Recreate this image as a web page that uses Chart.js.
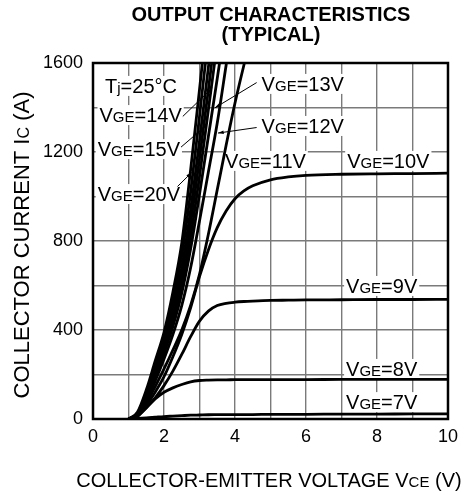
<!DOCTYPE html>
<html>
<head>
<meta charset="utf-8">
<script src="https://cdn.jsdelivr.net/npm/chart.js@4.4.0/dist/chart.umd.min.js"></script>
<style>
  html, body { margin: 0; padding: 0; background: #fff; }
</style>
</head>
<body>
<canvas id="chart" width="465" height="495"></canvas>
<script>
const FONT = "'Liberation Sans', Arial, sans-serif";

// collector-emitter voltage (V), shared by every curve
const vce = [1.0, 1.25, 1.5, 1.75, 2.0, 2.25, 2.5, 2.75, 3.0, 3.25, 3.5, 3.75, 4.0, 4.25, 4.5, 5, 5.5, 6, 7, 8, 9, 10];

// collector current (A) per gate voltage, null once the curve has left the plot
const ic20 = [0, 30, 130, 260, 390, 570, 790, 1120, 1480, 1850, null, null, null, null, null, null, null, null, null, null, null, null];
const ic18 = [0, 25, 115, 240, 365, 525, 735, 1020, 1360, 1720, null, null, null, null, null, null, null, null, null, null, null, null];
const ic16 = [0, 22, 105, 220, 340, 490, 680, 940, 1250, 1580, 1920, null, null, null, null, null, null, null, null, null, null, null];
const ic15 = [0, 20, 95, 205, 325, 465, 640, 880, 1170, 1480, 1800, null, null, null, null, null, null, null, null, null, null, null];
const ic14 = [0, 18, 90, 195, 310, 440, 600, 820, 1090, 1390, 1690, null, null, null, null, null, null, null, null, null, null, null];
const ic13 = [0, 16, 85, 185, 295, 415, 565, 765, 1010, 1270, 1530, 1800, null, null, null, null, null, null, null, null, null, null];
const ic12 = [0, 15, 80, 170, 270, 380, 510, 680, 890, 1110, 1330, 1590, 1850, null, null, null, null, null, null, null, null, null];
const ic11 = [0, 14, 70, 145, 225, 310, 400, 510, 650, 830, 1030, 1230, 1420, 1590, 1750, null, null, null, null, null, null, null];
const ic10 = [0, 12, 60, 120, 190, 280, 380, 500, 640, 760, 860, 935, 990, 1025, 1048, 1075, 1088, 1095, 1100, 1102, 1103, 1105];
const ic9 = [0, 12, 50, 95, 150, 215, 290, 370, 440, 485, 510, 520, 525, 528, 530, 533, 534, 535, 536, 537, 537, 538];
const ic8 = [0, 15, 50, 90, 120, 140, 155, 167, 173, 175, 176, 176, 177, 177, 177, 177, 177, 177, 178, 178, 178, 178];
const ic7 = [0, 3, 5, 8, 11, 13, 15, 17, 18, 19, 19.5, 20, 20, 20, 20, 21, 21, 21, 22, 22, 23, 23];

const seriesNames = ["VGE=20V", "VGE=18V", "VGE=16V", "VGE=15V", "VGE=14V", "VGE=13V", "VGE=12V", "VGE=11V", "VGE=10V", "VGE=9V", "VGE=8V", "VGE=7V"];
const seriesValues = [ic20, ic18, ic16, ic15, ic14, ic13, ic12, ic11, ic10, ic9, ic8, ic7];

// axis ticks
const xTickLabels = [0, 2, 4, 6, 8, 10];
const yTickLabels = [0, 400, 800, 1200, 1600];

// text inside the plot, {} marks the small letters; anchor in data units
const notes = [
  { text: "T{j}=25°C", x: 0.34, y: 1497, align: "left" },
  { text: "V{GE}=14V", x: 2.5, y: 1366, align: "right" },
  { text: "V{GE}=15V", x: 2.45, y: 1213, align: "right" },
  { text: "V{GE}=20V", x: 2.45, y: 1011, align: "right" },
  { text: "V{GE}=13V", x: 4.75, y: 1506, align: "left" },
  { text: "V{GE}=12V", x: 4.75, y: 1317, align: "left" },
  { text: "V{GE}=11V", x: 3.72, y: 1160, align: "left" },
  { text: "V{GE}=10V", x: 7.16, y: 1160, align: "left" },
  { text: "V{GE}=9V", x: 7.13, y: 598, align: "left" },
  { text: "V{GE}=8V", x: 7.13, y: 225, align: "left" },
  { text: "V{GE}=7V", x: 7.13, y: 76, align: "left" },
];

// leader lines from label to curve, data units
const leaders = [
  [2.53, 1360, 3.36, 1488],
  [2.48, 1222, 3.16, 1315],
  [2.38, 1045, 2.78, 1108],
  [4.61, 1512, 3.43, 1398],
  [4.61, 1310, 3.52, 1285],
];

function drawRich(ctx, text, x, y, align, big, small) {
  const parts = text.split(/[{}]/);
  let w = 0;
  parts.forEach((p, i) => {
    ctx.font = (i % 2 ? small : big) + "px " + FONT;
    w += ctx.measureText(p).width;
  });
  let cx = align === "left" ? x : align === "right" ? x - w : x - w / 2;
  const start = cx;
  ctx.textBaseline = "alphabetic";
  ctx.textAlign = "left";
  parts.forEach((p, i) => {
    ctx.font = (i % 2 ? small : big) + "px " + FONT;
    ctx.fillText(p, cx, y);
    cx += ctx.measureText(p).width;
  });
  return { left: start, width: w };
}

const textPlugin = {
  id: "texts",
  beforeDatasetsDraw(chart) {
    const { ctx, scales } = chart;
    ctx.save();
    notes.forEach((n) => {
      const px = scales.x.getPixelForValue(n.x);
      const py = scales.y.getPixelForValue(n.y);
      const base = py + 7;
      ctx.globalAlpha = 0;
      const m = drawRich(ctx, n.text, px, base, n.align, 20, 15);
      ctx.globalAlpha = 1;
      ctx.fillStyle = "#fff";
      ctx.fillRect(m.left - 2, py - 10, m.width + 4, 20);
      ctx.fillStyle = "#000";
      drawRich(ctx, n.text, px, base, n.align, 20, 15);
    });
    ctx.strokeStyle = "#000";
    ctx.lineWidth = 1;
    leaders.forEach(([x1, y1, x2, y2]) => {
      const ax = scales.x.getPixelForValue(x1), ay = scales.y.getPixelForValue(y1);
      const bx = scales.x.getPixelForValue(x2), by = scales.y.getPixelForValue(y2);
      ctx.beginPath();
      ctx.moveTo(ax, ay);
      ctx.lineTo(bx, by);
      ctx.stroke();
      const ang = Math.atan2(by - ay, bx - ax);
      ctx.beginPath();
      ctx.moveTo(bx, by);
      ctx.lineTo(bx - 6 * Math.cos(ang - 0.3), by - 6 * Math.sin(ang - 0.3));
      ctx.lineTo(bx - 6 * Math.cos(ang + 0.3), by - 6 * Math.sin(ang + 0.3));
      ctx.closePath();
      ctx.fillStyle = "#000";
      ctx.fill();
    });
    ctx.restore();
  },
  afterDraw(chart) {
    const { ctx, chartArea: a } = chart;
    ctx.save();
    // plot frame
    ctx.strokeStyle = "#000";
    ctx.lineWidth = 2.5;
    ctx.strokeRect(a.left, a.top, a.right - a.left, a.bottom - a.top);
    // title
    ctx.fillStyle = "#000";
    ctx.textAlign = "center";
    ctx.textBaseline = "alphabetic";
    ctx.font = "bold 20px " + FONT;
    ctx.fillText("OUTPUT CHARACTERISTICS", 271, 21);
    ctx.fillText("(TYPICAL)", 271, 41);
    // x axis title
    drawRich(ctx, "COLLECTOR-EMITTER VOLTAGE V{CE} (V)", 269, 487, "center", 20, 15);
    // y axis title
    ctx.translate(29, 245);
    ctx.rotate(-Math.PI / 2);
    drawRich(ctx, "COLLECTOR CURRENT I{C} (A)", 0, 0, "center", 22, 16);
    ctx.restore();
  },
};

const datasets = seriesNames.map((name, i) => ({
  label: name,
  data: vce.map((v, j) => ({ x: v, y: seriesValues[i][j] })).filter((p) => p.y !== null),
  borderColor: "#000",
  borderWidth: 2.8,
  pointRadius: 0,
  fill: false,
  cubicInterpolationMode: "monotone",
}));

new Chart(document.getElementById("chart"), {
  type: "line",
  data: { datasets },
  options: {
    responsive: false,
    animation: false,
    layout: { padding: { top: 63, right: 16, left: 0, bottom: 0 } },
    plugins: {
      legend: { display: false },
      title: { display: false },
      tooltip: { enabled: false },
    },
    scales: {
      x: {
        type: "linear",
        min: 0,
        max: 10,
        afterFit: (s) => { s.height = 76; },
        ticks: {
          stepSize: 1,
          autoSkip: false,
          maxRotation: 0,
          padding: 7,
          color: "#000",
          font: { family: FONT, size: 18 },
          callback: (v) => (xTickLabels.includes(v) ? String(v) : ""),
        },
        grid: { color: "#7a7a7a", lineWidth: 1.4, drawTicks: false },
        border: { display: false },
      },
      y: {
        min: 0,
        max: 1600,
        afterFit: (s) => { s.width = 93; },
        ticks: {
          stepSize: 200,
          autoSkip: false,
          padding: 10,
          color: "#000",
          font: { family: FONT, size: 18 },
          callback: (v) => (yTickLabels.includes(v) ? String(v) : ""),
        },
        grid: { color: "#7a7a7a", lineWidth: 1.4, drawTicks: false },
        border: { display: false },
      },
    },
  },
  plugins: [textPlugin],
});
</script>
</body>
</html>
